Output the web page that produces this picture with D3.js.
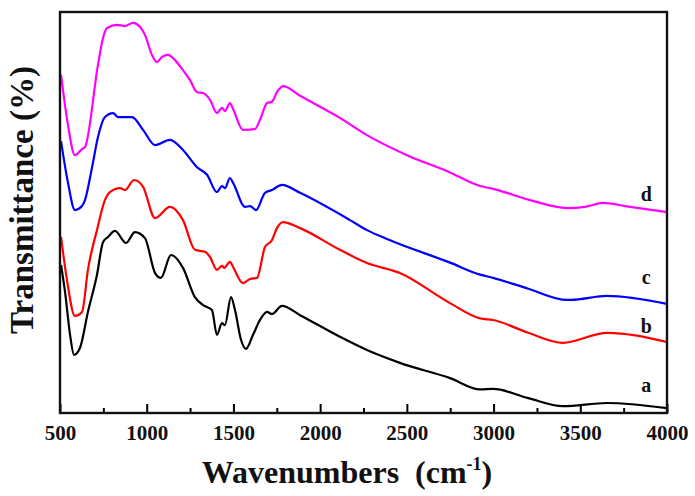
<!DOCTYPE html>
<html>
<head>
<meta charset="utf-8">
<script src="https://cdn.jsdelivr.net/npm/d3@7"></script>
<style>
  body { margin: 0; background: #fff; }
  svg { display: block; }
  text { font-family: "Liberation Serif", "Times New Roman", serif; font-weight: bold; }
</style>
</head>
<body>
<svg></svg>
<script>
// spectra: [wavenumber, transmittance (arb.)]
let seriesA = [[506,36.9],[529,30.2],[558,19.5],[581,14.5],[615,16.2],[661,25.2],[713,34.4],[748,42.6],[777,43.9],[817,45.4],[881,42.4],[932,45.1],[990,43.6],[1048,34.9],[1082,33.7],[1140,39.4],[1209,36.2],[1278,28.9],[1325,26.9],[1376,25.7],[1405,19.5],[1434,22.4],[1451,21.9],[1486,28.9],[1509,25.7],[1544,18.2],[1572,16.0],[1613,19.5],[1653,23.2],[1694,25.2],[1722,24.7],[1780,26.7],[1884,24.4],[2114,19.0],[2270,15.7],[2460,12.5],[2749,8.7],[2922,5.9],[2997,6.0],[3200,3.7],[3400,1.7],[3654,2.5],[4000,1.2]];

let seriesB = [[506,43.9],[540,33.2],[586,24.2],[627,25.2],[661,35.7],[713,45.6],[759,53.1],[788,55.1],[846,56.1],[875,55.6],[927,58.1],[979,56.4],[1048,48.6],[1134,51.4],[1209,48.1],[1278,40.7],[1336,40.2],[1365,38.9],[1405,35.7],[1434,36.7],[1446,36.2],[1480,37.7],[1498,36.4],[1555,32.4],[1596,33.4],[1636,33.7],[1682,41.4],[1722,43.1],[1751,46.1],[1786,47.6],[1884,46.1],[2114,40.7],[2270,37.4],[2460,34.9],[2749,27.4],[2922,23.6],[2997,23.2],[3200,20.0],[3400,17.5],[3654,20.0],[4000,17.7]];

let seriesC = [[506,67.8],[546,57.4],[586,50.6],[627,51.6],[644,53.1],[685,61.3],[719,68.8],[759,73.8],[806,74.8],[834,73.8],[915,73.8],[979,70.6],[1048,66.8],[1134,68.1],[1209,65.6],[1290,61.3],[1348,59.4],[1405,55.1],[1434,56.6],[1451,56.1],[1480,58.6],[1498,57.4],[1567,51.4],[1596,51.6],[1630,50.6],[1682,54.9],[1722,55.6],[1780,56.9],[1884,54.9],[2172,48.1],[2270,45.6],[2403,43.1],[2749,37.5],[2922,34.5],[2997,33.7],[3200,31.0],[3423,28.2],[3446,28.2],[3654,29.2],[4000,27.2]];

let seriesD = [[506,84.3],[546,71.8],[586,64.3],[627,65.8],[644,66.3],[719,86.8],[748,93.5],[771,96.0],[829,96.8],[875,96.5],[921,97.3],[961,96.3],[990,94.3],[1030,89.3],[1059,87.5],[1088,88.8],[1123,89.3],[1163,88.0],[1209,85.5],[1250,83.0],[1290,80.0],[1325,79.8],[1365,78.1],[1405,74.8],[1434,76.1],[1451,75.3],[1480,77.3],[1498,75.8],[1555,70.6],[1624,70.8],[1653,73.1],[1694,77.3],[1722,77.6],[1751,80.0],[1786,81.5],[1884,79.1],[2114,73.6],[2270,69.3],[2501,64.3],[2749,60.0],[2922,56.6],[2997,55.9],[3210,53.1],[3423,51.1],[3527,51.4],[3631,52.4],[3758,51.6],[4000,50.1]];

let seriesNames  = ["a","b","c","d"];
let seriesColors = ["#000000","#ff0000","#0000ff","#ff00ff"];
let labelWn      = 3880;
let labelValues  = [5.2, 20.0, 32.2, 52.9];

let majorTicks = [500,1000,1500,2000,2500,3000,3500,4000];
let minorTicks = [750,1250,1750,2250,2750,3250,3750];

let width = 695, height = 496,
    margin = {left: 60, right: 28, top: 12, bottom: 83},
    x = d3.scaleLinear().domain([500,4000]).range([margin.left, width-margin.right]),
    y = d3.scaleLinear().domain([0,100]).range([height-margin.bottom, margin.top]),
    svg = d3.select("svg").attr("width",width).attr("height",height);

let line = d3.line()
    .x(d=>x(d[0]))
    .y(d=>y(d[1]))
    .curve(d3.curveMonotoneX);

[seriesA,seriesB,seriesC,seriesD].forEach((s,i)=>{
  svg.append("path")
    .datum(s)
    .attr("d",line)
    .attr("fill","none")
    .attr("stroke",seriesColors[i])
    .attr("stroke-width",2.2)
    .attr("stroke-linejoin","round");
});

// minor ticks
svg.append("g")
  .attr("transform",`translate(0,${y(0)})`)
  .call(d3.axisBottom(x).tickValues(minorTicks).tickSize(-5).tickFormat(""))
  .call(g=>g.select(".domain").remove())
  .call(g=>g.selectAll("line").attr("stroke","#000").attr("stroke-width",2));

// major ticks + labels
svg.append("g")
  .attr("transform",`translate(0,${y(0)})`)
  .call(d3.axisBottom(x).tickValues(majorTicks).tickSize(-9).tickPadding(12).tickFormat(d3.format("d")))
  .call(g=>g.select(".domain").remove())
  .call(g=>g.selectAll("line").attr("stroke","#000").attr("stroke-width",2))
  .call(g=>g.selectAll("text")
      .attr("font-family","Liberation Serif")
      .attr("font-weight","bold")
      .attr("font-size","21px")
      .attr("fill","#111"));

// frame
svg.append("rect")
  .attr("x",x(500)).attr("y",y(100))
  .attr("width",x(4000)-x(500)).attr("height",y(0)-y(100))
  .attr("fill","none").attr("stroke","#111").attr("stroke-width",2.4);

// curve labels
svg.selectAll(".lab")
  .data(seriesNames)
  .enter()
  .append("text")
  .attr("class","lab")
  .attr("x",x(labelWn))
  .attr("y",(d,i)=>y(labelValues[i]))
  .attr("text-anchor","middle")
  .attr("font-size","20px")
  .attr("fill","#111")
  .text(d=>d);

// axis titles
let xt = svg.append("text")
  .attr("x",347)
  .attr("y",483)
  .attr("text-anchor","middle")
  .attr("font-size","32px")
  .attr("fill","#111");
xt.append("tspan").text("Wavenumbers\u00a0\u00a0(cm");
xt.append("tspan").attr("font-size","18px").attr("dy","-13").text("-1");
xt.append("tspan").attr("dy","13").text(")");

svg.append("text")
  .attr("transform","translate(33,200) rotate(-90)")
  .attr("text-anchor","middle")
  .attr("font-size","33px")
  .attr("fill","#111")
  .text("Transmittance (%)");
</script>
</body>
</html>
